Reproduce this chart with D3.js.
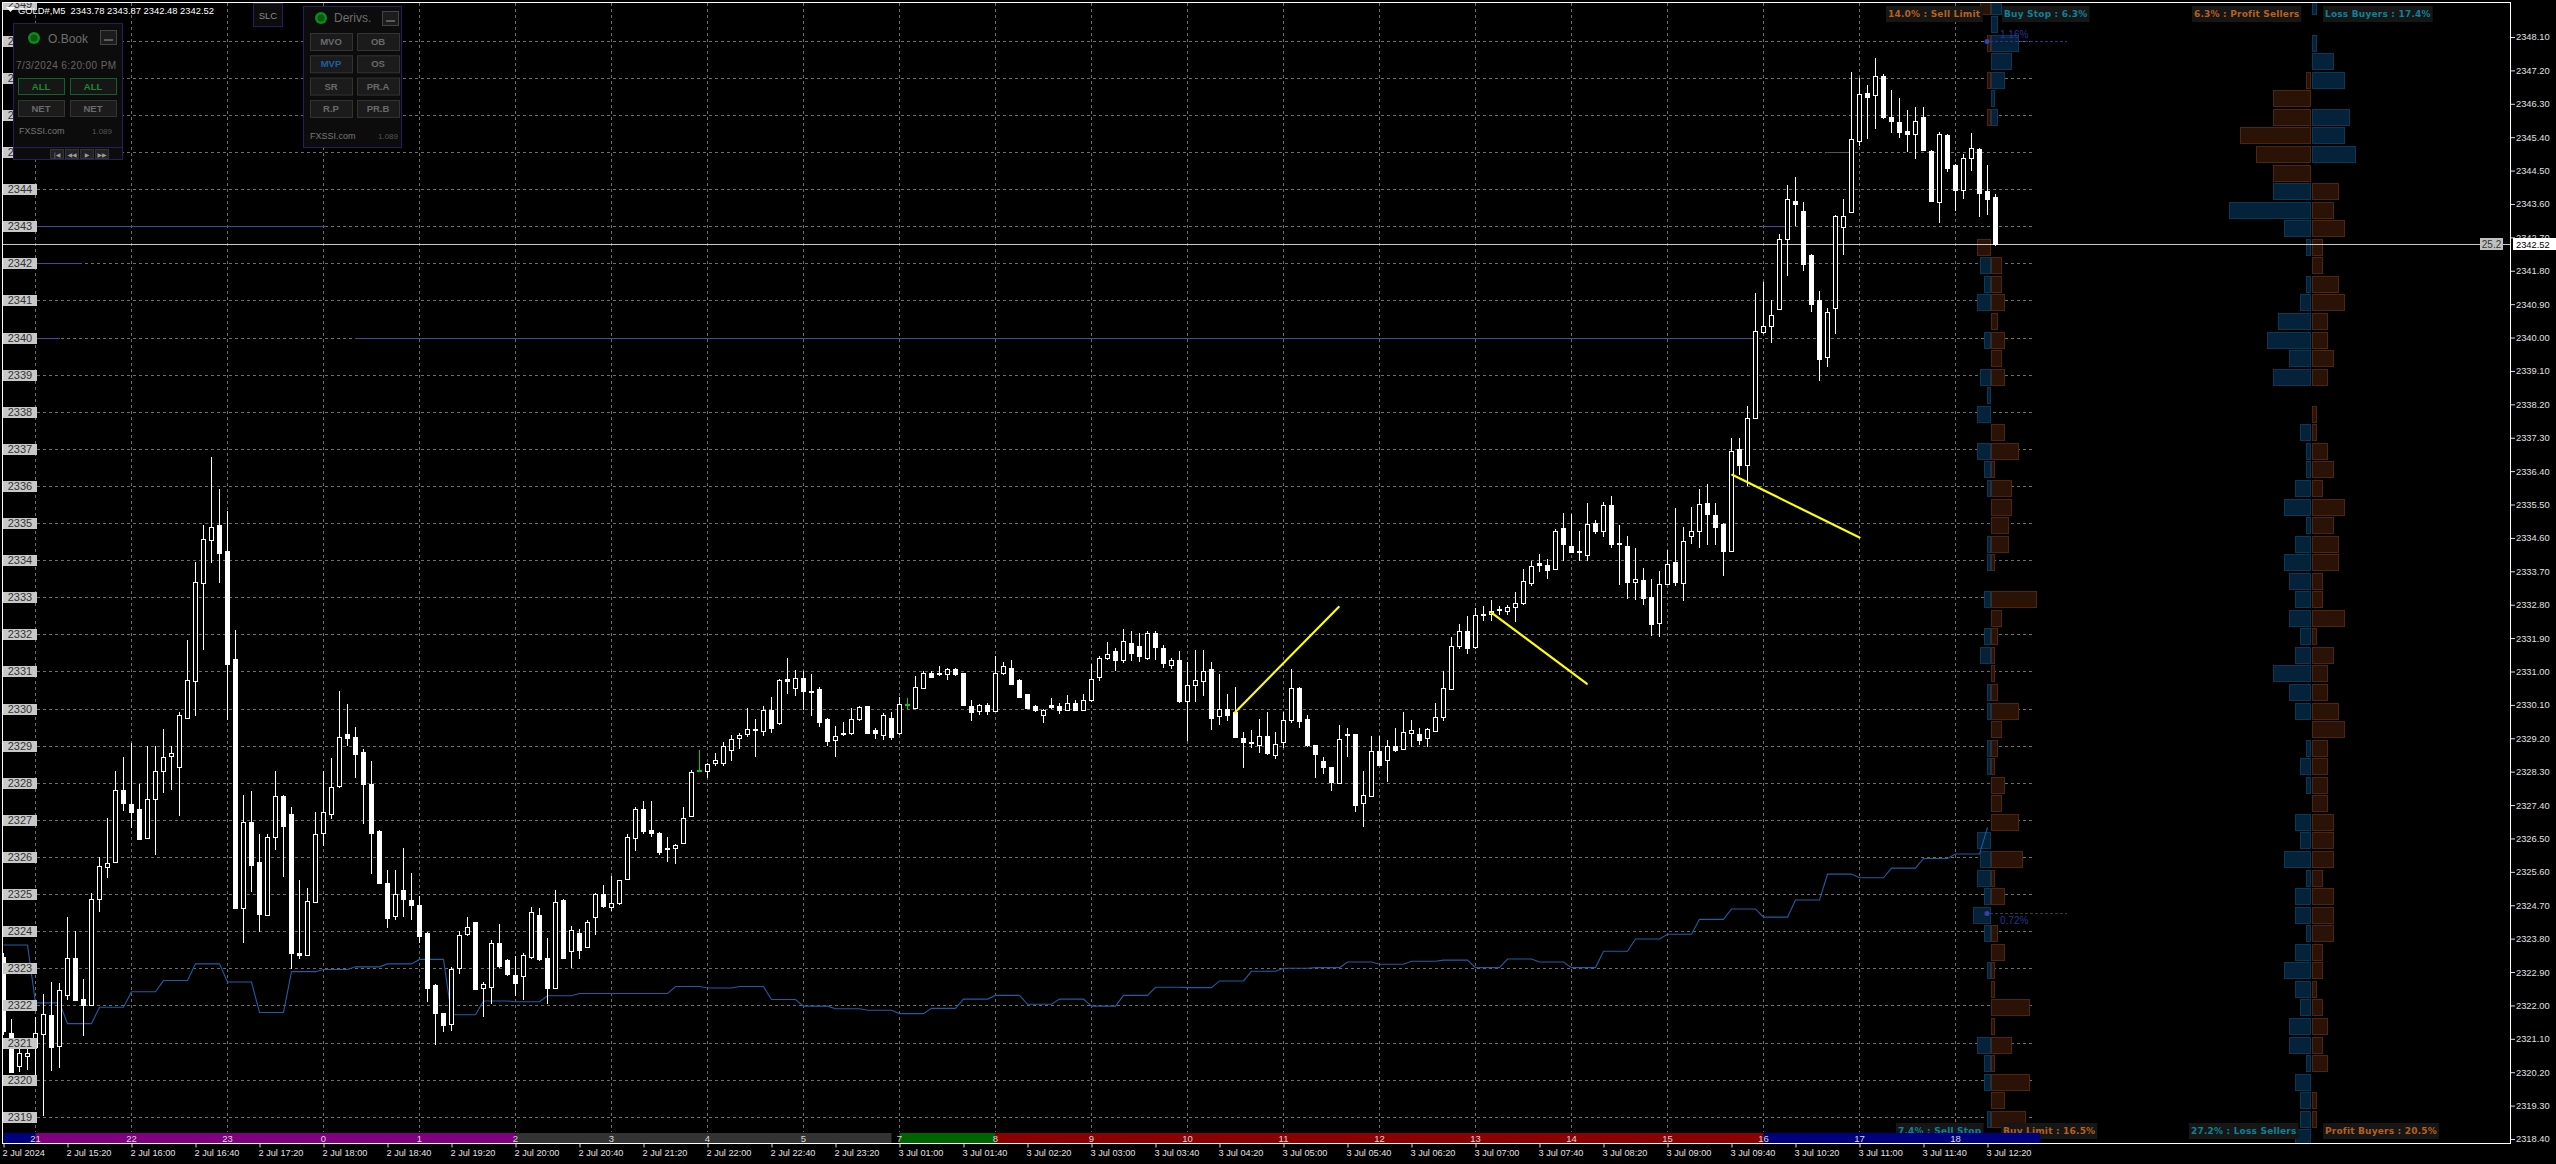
<!DOCTYPE html>
<html><head><meta charset="utf-8">
<style>html,body{margin:0;padding:0;background:#000;overflow:hidden}text{font-family:"Liberation Sans",Arial,sans-serif}</style>
<script src="https://d3js.org/d3.v7.min.js"></script></head><body>
<svg id="c" width="2556" height="1164" xmlns="http://www.w3.org/2000/svg"></svg>
<script>
const opens=[2323.3,2321.27,2320.36,2320.64,2320.89,2321.23,2321.73,2320.92,2322.29,2323.28,
2322.16,2322.01,2324.87,2325.74,2325.87,2327.8,2327.42,2327.29,2326.53,2327.57,
2328.33,2328.72,2328.41,2329.74,2330.74,2333.38,2334.54,2334.94,2334.26,2331.34,
2324.62,2326.93,2325.87,2324.44,2326.55,2327.65,2327.17,2323.42,2323.36,2324.79,
2326.65,2327.17,2327.91,2329.31,2329.24,2328.82,2327.96,2326.7,2325.31,2324.41,
2325.12,2324.85,2324.71,2323.96,2322.55,2321.79,2321.49,2323.01,2323.92,2324.24,
2322.45,2322.5,2323.69,2323.22,2322.82,2322.8,2323.32,2324.44,2323.29,2322.47,
2324.84,2323.47,2323.96,2323.57,2324.36,2325,2324.64,2324.74,2325.43,2326.53,
2327.3,2326.73,2326.65,2326.23,2326.24,2326.38,2327.1,2328.35,2328.34,2328.53,
2328.52,2328.88,2329.2,2329.31,2329.44,2329.4,2329.97,2329.59,2330.79,2330.56,
2330.83,2330.47,2330.52,2329.71,2329.15,2329.34,2329.34,2329.7,2330.06,2329.41,
2329.29,2329.75,2329.35,2330.08,2330.02,2330.56,2330.96,2330.95,2330.93,2331.06,
2330.95,2330.08,2329.94,2330.11,2329.95,2330.96,2331.1,2330.78,2330.39,2330.06,
2329.83,2330.11,2330.07,2329.96,2330.16,2329.96,2330.23,2330.85,2331.37,2331.54,
2331.29,2331.76,2331.69,2331.36,2332.05,2331.63,2331.18,2331.32,2330.21,2330.64,
2330.76,2331.07,2329.79,2330,2329.9,2329.21,2329.1,2329.02,2329.27,2328.75,
2329.1,2329.7,2330.55,2329.71,2329.02,2328.58,2328.42,2328,2329.31,2329.31,
2327.45,2327.67,2328.87,2328.62,2329,2328.91,2329.34,2329.31,2329.21,2329.39,
2329.79,2330.53,2331.7,2332.1,2331.64,2332.55,2332.54,2332.67,2332.63,2332.75,
2332.85,2333.39,2333.93,2333.88,2333.77,2334.87,2334.38,2334.25,2334.14,2335.01,
2334.79,2335.5,2334.47,2334.38,2333.4,2333.47,2333.01,2332.29,2333.36,2333.94,
2333.4,2334.64,2334.79,2335.55,2335.23,2334.98,2334.26,2337,2336.56,2337.84,
2340.14,2340.32,2340.78,2342.66,2343.68,2343.42,2342.22,2341,2339.48,2340.8,
2342.98,2343.4,2345.3,2346.6,2346.54,2347.04,2345.94,2345.8,2345.58,2345.5,
2345.94,2345.04,2343.66,2345.46,2344.66,2343.98,2344.86,2345.08,2343.96,2343.78];
const closes=[2321.3,2320.21,2320.71,2320.71,2321.27,2321.76,2320.86,2322.42,2323.28,2322.14,
2321.99,2324.87,2325.76,2325.84,2327.8,2327.45,2327.2,2326.48,2327.57,2328.32,
2328.7,2328.79,2329.82,2330.77,2333.41,2334.57,2334.9,2334.19,2331.22,2324.62,
2326.95,2325.76,2324.46,2326.55,2327.65,2326.83,2323.42,2323.36,2324.82,2326.63,
2327.21,2327.9,2329.24,2329.19,2328.79,2327.97,2326.65,2325.31,2324.36,2325,
2324.87,2324.71,2323.88,2322.47,2321.8,2321.48,2322.98,2323.9,2324.11,2322.44,
2322.57,2323.69,2323.07,2322.85,2322.6,2323.36,2324.52,2323.26,2322.48,2324.79,
2323.29,2324.04,2323.49,2324.25,2324.99,2324.69,2324.75,2325.37,2326.55,2327.3,
2326.71,2326.65,2326.15,2326.19,2326.33,2327.05,2328.29,2328.32,2328.52,2328.62,
2328.98,2329.18,2329.28,2329.44,2329.4,2329.96,2329.49,2330.76,2330.74,2330.83,
2330.47,2330.45,2329.64,2329.11,2329.26,2329.31,2329.72,2330.03,2329.34,2329.33,
2329.84,2329.25,2330.12,2330.12,2330.58,2330.97,2330.86,2330.91,2331.06,2330.93,
2330.08,2329.92,2330.11,2329.96,2330.97,2331.14,2330.68,2330.33,2330.02,2329.94,
2329.96,2330.05,2329.96,2330.16,2329.98,2330.24,2330.8,2331.36,2331.47,2331.31,
2331.81,2331.48,2331.43,2332.03,2331.66,2331.23,2331.32,2330.21,2330.63,2330.78,
2331.02,2329.75,2329.98,2329.83,2329.22,2329.1,2329.08,2329.27,2328.82,2329.04,
2329.7,2330.56,2329.67,2329.02,2328.77,2328.41,2328.01,2329.19,2329.28,2327.39,
2327.67,2328.87,2328.48,2328.99,2328.88,2329.37,2329.41,2329.15,2329.45,2329.77,
2330.56,2331.7,2332.1,2331.63,2332.51,2332.52,2332.62,2332.69,2332.75,2332.85,
2333.43,2333.84,2333.88,2333.75,2334.79,2334.43,2334.22,2334.22,2334.98,2334.79,
2335.5,2334.44,2334.43,2333.42,2333.48,2332.99,2332.28,2333.35,2333.91,2333.39,
2334.53,2334.78,2335.52,2335.25,2334.9,2334.26,2336.95,2336.56,2337.84,2340.18,
2340.3,2340.62,2342.66,2343.74,2343.6,2342,2340.9,2339.4,2340.7,2343.28,
2343.28,2345.36,2346.56,2346.48,2347.04,2345.94,2345.84,2345.54,2345.5,2345.84,
2345.06,2343.68,2345.48,2344.58,2343.98,2344.84,2345.12,2343.9,2343.74,2342.52];
const highs=[2323.4,2321.64,2320.89,2320.95,2321.7,2322.32,2322.63,2322.6,2324.38,2324,
2322.7,2325.03,2325.99,2327.05,2328.33,2328.69,2329.06,2327.98,2328.98,2328.98,
2329.45,2328.98,2329.91,2331.86,2333.95,2334.95,2336.79,2335.91,2335.32,2332.12,
2327.67,2327.77,2326.61,2326.61,2328.33,2327.67,2327.36,2325.37,2325.16,2327.2,
2328.33,2328.67,2330.47,2330.12,2329.51,2328.92,2328.6,2326.72,2325.66,2325.66,
2326.24,2325.58,2324.96,2323.98,2322.57,2321.8,2323.04,2324,2324.38,2324.26,
2322.63,2323.75,2324.19,2323.26,2323.34,2323.42,2324.66,2324.62,2323.82,2325.12,
2324.87,2324.13,2324.06,2324.31,2325.03,2325.25,2325.49,2325.38,2326.61,2327.36,
2327.52,2327.52,2326.68,2326.55,2326.35,2327.36,2328.34,2328.89,2328.54,2328.79,
2329.1,2329.29,2329.35,2330.01,2329.71,2330.06,2330.31,2330.81,2331.37,2331.05,
2331,2330.94,2330.57,2329.74,2329.54,2329.64,2330.01,2330.07,2330.06,2329.47,
2329.89,2329.91,2330.3,2330.28,2330.89,2331.01,2331.01,2331.15,2331.1,2331.09,
2330.95,2330.24,2330.13,2330.15,2331.41,2331.25,2331.31,2330.79,2330.4,2330.1,
2330,2330.28,2330.16,2330.36,2330.22,2330.4,2331.21,2331.43,2331.8,2331.64,
2332.14,2332.08,2332.04,2332.08,2332.1,2331.71,2331.37,2331.55,2331.25,2331.59,
2331.59,2331.25,2330.92,2330.4,2330.58,2329.37,2329.43,2329.73,2329.92,2329.37,
2329.92,2331.07,2330.58,2329.83,2329.03,2328.7,2328.43,2329.55,2329.49,2329.32,
2328.31,2329.25,2329.27,2329.15,2329.49,2329.92,2329.7,2329.47,2329.49,2330.16,
2331.01,2331.92,2332.28,2332.49,2332.71,2332.77,2332.92,2332.77,2332.8,2333.13,
2333.76,2333.98,2334.16,2334.04,2334.83,2335.28,2335.25,2334.79,2335.53,2335.07,
2335.56,2335.72,2334.95,2334.65,2334.34,2333.8,2333.5,2333.7,2334.28,2335.4,
2334.89,2335.44,2335.92,2336.04,2335.53,2335.01,2337.3,2337.3,2338.16,2341.2,
2341.5,2341,2342.8,2344.1,2344.34,2343.66,2342.26,2341.26,2340.8,2343.3,
2343.74,2347.16,2347,2346.8,2347.54,2347.1,2346.66,2346.46,2346.14,2346.2,
2346.2,2345.06,2345.54,2345.48,2344.68,2344.96,2345.5,2345.1,2344.66,2343.87];
const lows=[2321.2,2320.2,2320.2,2320.27,2320.02,2319.03,2320.23,2320.31,2322.14,2322.12,
2321.18,2321.98,2324.52,2325.43,2325.85,2327.24,2326.78,2326.45,2326.5,2326.05,
2327.73,2327.8,2327.11,2329.72,2329.79,2331.59,2333.92,2333.39,2329.69,2324.6,
2323.69,2325.06,2323.98,2324.4,2326.2,2325.46,2322.98,2323.26,2323.34,2324.77,
2326.3,2327.02,2327.86,2328.98,2328.14,2326.9,2325.53,2325.28,2324.1,2324.31,
2324.38,2324.29,2323.67,2322.1,2320.93,2321.29,2321.3,2322.85,2323.88,2322.42,
2321.68,2322.05,2323.01,2322.78,2322.26,2322.14,2323.26,2323.19,2322.05,2322.45,
2323.26,2323.01,2323.26,2323.54,2323.9,2324.62,2324.54,2324.71,2325.41,2326.15,
2326.61,2326.53,2326.05,2325.87,2325.81,2326.35,2327.07,2328.29,2328.14,2328.44,
2328.44,2328.6,2328.92,2329.23,2328.7,2329.25,2329.33,2329.56,2330.38,2330.33,
2329.97,2329.79,2329.51,2328.98,2328.7,2329.26,2329.29,2329.66,2329.33,2329.19,
2329.14,2329.16,2329.3,2329.95,2330,2330.52,2330.83,2330.89,2330.76,2330.89,
2330.07,2329.67,2329.83,2329.82,2329.92,2330.91,2330.67,2330.32,2330.01,2329.92,
2329.61,2329.98,2329.85,2329.94,2329.94,2329.94,2330.19,2330.74,2331.31,2331.01,
2331.23,2331.27,2331.25,2331.31,2331.31,2331.1,2331.07,2330.16,2329.13,2330.19,
2330.34,2329.43,2329.55,2329.67,2329.21,2328.4,2328.94,2328.8,2328.76,2328.64,
2328.94,2329.61,2329.47,2328.97,2328.13,2328.25,2327.79,2327.97,2328.7,2327.21,
2326.82,2327.63,2328.46,2328.01,2328.82,2328.88,2328.97,2329.03,2328.97,2329.37,
2329.67,2330.52,2331.61,2331.47,2331.61,2332.37,2332.37,2332.52,2332.52,2332.34,
2332.8,2333.31,2333.68,2333.5,2333.76,2333.98,2334.2,2333.98,2333.98,2334.71,
2334.62,2334.32,2333.34,2332.95,2332.92,2332.8,2331.95,2331.94,2333.34,2333.31,
2332.91,2334.44,2334.34,2334.41,2334.41,2333.58,2334.25,2336.3,2336,2337.8,
2340.1,2339.84,2340.74,2341.66,2343,2341.8,2340.7,2338.84,2339.2,2340.1,
2342.22,2343.38,2345.16,2345.34,2345.62,2345.9,2345.5,2345.38,2345,2344.8,
2345.02,2343.66,2343.1,2344.46,2343.42,2343.74,2344.5,2343.26,2343.3,2342.48];
const greenBars=[87,113];
// stepped average, one value per four bars
const stepAvg=[2323.63,2322.07,2321.51,2321.95,2322.37,2322.67,2323.12,2322.63,2321.81,2322.91,2322.97,2323.04,2323.12,2323.24,2321.75,2322.12,2322.1,2322.26,2322.32,2322.32,2322.32,2322.51,2322.47,2322.51,2322.16,2321.98,2321.91,2321.87,
2321.78,2321.92,2322.17,2322.27,2322.03,2322.17,2321.98,2322.27,2322.49,2322.48,2322.66,2322.92,2323,2323.02,2323.17,2323.11,2323.19,2323.22,2323.02,2323.25,2323.17,2323.02,2323.46,2323.79,2323.92,2324.32,2324.6,2324.38,2324.84,2325.54,2325.44,2325.7,2325.96,2326.08,2326.8];
// hand-drawn yellow trend lines [bar, price, bar, price]
const trendLines=[[153.9,2329.89,166.9,2332.74],[185.9,2332.6,197.9,2330.67],[216.1,2336.3,232,2334.61]];
const levelSegs=[[2340,37,60],[2340,355,1755],[2343,37,326],[2343,1762,1786],[2342,37,82]];
const xLabels=["2 Jul 2024","2 Jul 15:20","2 Jul 16:00","2 Jul 16:40","2 Jul 17:20","2 Jul 18:00","2 Jul 18:40","2 Jul 19:20","2 Jul 20:00","2 Jul 20:40","2 Jul 21:20","2 Jul 22:00","2 Jul 22:40","2 Jul 23:20","3 Jul 01:00","3 Jul 01:40","3 Jul 02:20","3 Jul 03:00","3 Jul 03:40","3 Jul 04:20","3 Jul 05:00","3 Jul 05:40","3 Jul 06:20","3 Jul 07:00","3 Jul 07:40","3 Jul 08:20","3 Jul 09:00","3 Jul 09:40","3 Jul 10:20","3 Jul 11:00","3 Jul 11:40","3 Jul 12:20"];
const hourLabels=["21","22","23","0","1","2","3","4","5","7","8","9","10","11","12","13","14","15","16","17","18"];
const sessions=[{from:-1,to:4,c:"#00007f"},{from:4,to:64,c:"#800080"},{from:64,to:111,c:"#333333"},{from:112,to:124,c:"#006400"},{from:124,to:220,c:"#8b0000"},{from:220,to:254.6,c:"#00007f"}];
const rightTicks=d3.range(0,34).map(k=>+(2348.1-0.9*k).toFixed(2));
const leftLabels=d3.range(2349,2318,-1);
// order book rows from 2349 down to 2318.5, step 0.5
const bookPrices=d3.range(0,62).map(k=>2349-0.5*k);
const obLeft=[3,0,1,0,1,0,1,0,0,0, 0,0,0,4,3,2,4,0,2,0, 3,1,4,0,4,2,1,0,0,1, 1,0,2,0,2,3,0,1,1,0, 1,1,0,0,0,4,3,4,2,5, 2,0,1,0,0,0,4,2,2,0, 1,0];
const obRight=[3,2,8,6,4,1,2,0,0,0, 0,0,0,0,3,3,4,2,4,3, 4,0,0,4,8,1,6,6,5,5, 1,0,13,3,2,1,1,2,8,3, 2,1,4,3,8,0,9,1,4,0, 2,4,1,1,11,1,6,1,11,4, 10,0];
const posLeft=[0,0,0,0,1,7,7,13,10,7, 7,15,5,1,0,1,2,6,8,4, 7,0,0,2,1,1,3,5,1,3, 5,4,3,4,2,3,7,4,3,0, 1,2,1,0,3,2,5,1,3,3, 1,3,5,3,2,4,4,1,3,2, 2,3];
const posRight=[1,0,1,4,6,0,7,6,8,0, 5,4,6,2,2,5,6,3,3,4, 3,0,1,1,3,4,2,6,4,5, 5,2,2,6,1,4,3,3,5,6, 3,3,3,3,4,4,4,2,4,4, 4,2,2,1,2,3,2,3,0,1, 1,0];
const topCaptions=[["14.0% : Sell Limit",1888,"#b8601c"],["Buy Stop : 6.3%",2004,"#0b8296"],["6.3% : Profit Sellers",2194,"#b8601c"],["Loss Buyers : 17.4%",2325,"#0b8296"]];
const bottomCaptions=[["7.4% : Sell Stop",1898,"#0b8296"],["Buy Limit : 16.5%",2003,"#b8601c"],["27.2% : Loss Sellers",2191,"#0b8296"],["Profit Buyers : 20.5%",2325,"#b8601c"]];
const lastPrice=2342.52, title="GOLD#,M5  2343.78 2343.87 2342.48 2342.52";

const svg=d3.select("#c");
const x=d3.scaleLinear().domain([0,249]).range([3.5,1995.5]);
const y=d3.scaleLinear().domain([2348.1,2318.4]).range([37,1139]);
const px=v=>Math.round(v)+0.5;
svg.append("rect").attr("width",2556).attr("height",1164).attr("fill","#000");
svg.append("defs").append("clipPath").attr("id","plot").append("rect").attr("x",3).attr("y",3).attr("width",2508).attr("height",1140);
const plot=svg.append("g").attr("clip-path","url(#plot)");

// grid
const gridG=plot.append("g").attr("stroke","#6e6e6e").attr("stroke-dasharray","3 3").attr("shape-rendering","crispEdges");
gridG.selectAll("line.h").data(d3.range(2348,2318,-1)).join("line").attr("class","h").attr("x1",37).attr("x2",2034).attr("y1",d=>px(y(d))).attr("y2",d=>px(y(d)));
gridG.selectAll("line.v").data(hourLabels).join("line").attr("class","v").attr("x1",(d,i)=>x(4+12*i)).attr("x2",(d,i)=>x(4+12*i)).attr("y1",3).attr("y2",1132);

// order book histograms
const brown=["#2a1206","#4f2410"], blue=["#04233a","#0a3957"];
const obScale=d3.scaleLinear().domain([0,13]).range([0,46]);
const posScale=d3.scaleLinear().domain([0,15]).range([0,82]);
function bars(vals,scale,edge,dir,above,threshold){
  const rows=vals.map((v,i)=>({v,p:bookPrices[i]})).filter(d=>d.v>0);
  plot.append("g").attr("shape-rendering","crispEdges").selectAll("rect").data(rows).join("rect")
   .attr("x",d=>(dir<0?edge-scale(d.v)+1:edge)+0.5)
   .attr("y",d=>Math.round(y(d.p)-6)+0.5)
   .attr("width",d=>scale(d.v)-1).attr("height",16)
   .attr("fill",d=>(d.p>threshold?above:(above===brown?blue:brown))[0])
   .attr("stroke",d=>(d.p>threshold?above:(above===brown?blue:brown))[1]);
}
bars(obLeft,obScale,1990,-1,brown,2342.25);
bars(obRight,obScale,1991,1,blue,2342.25);
bars(posLeft,posScale,2310,-1,brown,2344.25);
bars(posRight,posScale,2312,1,blue,2344.25);

// horizontal levels
plot.append("g").attr("stroke","#47479b").attr("shape-rendering","crispEdges").selectAll("line").data(levelSegs).join("line")
 .attr("x1",d=>d[1]).attr("x2",d=>d[2]).attr("y1",d=>px(y(d[0]))).attr("y2",d=>px(y(d[0])));
plot.append("line").attr("x1",1826).attr("x2",1850).attr("y1",152.5).attr("y2",152.5).attr("stroke","#555").attr("shape-rendering","crispEdges");
// last price line
plot.append("line").attr("x1",3).attr("x2",2511).attr("y1",px(y(lastPrice))).attr("y2",px(y(lastPrice))).attr("stroke","#c8c8c8").attr("shape-rendering","crispEdges");

// book level markers
[[2348,"1.16%","#2d3192","#2d3192",-7],[2324.5,"0.72%","#2d3192","#3a3a3a",7]].forEach(m=>{
  const yy=px(y(m[0]));
  plot.append("line").attr("x1",1985).attr("x2",2067).attr("y1",yy).attr("y2",yy).attr("stroke",m[3]).attr("stroke-dasharray","3 2").attr("shape-rendering","crispEdges");
  plot.append("circle").attr("cx",1987).attr("cy",yy).attr("r",2.5).attr("fill","#3b3fb0");
  plot.append("text").attr("x",2000).attr("y",yy+m[4]+3).attr("font-size",10).attr("fill",m[2]).text(m[1]);
});

// stepped average line
const stepPts=[];
stepAvg.forEach((v,k)=>{stepPts.push([4*k,v]); if(k<stepAvg.length-1) stepPts.push([4*k+3,v]);});
plot.append("path").attr("d",d3.line().x(d=>x(d[0])).y(d=>y(d[1]))(stepPts)).attr("fill","none").attr("stroke","#1c5ea6").attr("stroke-width",1.1);

// candles
const bars5=d3.range(opens.length).map(i=>({i,o:opens[i],h:highs[i],l:lows[i],c:closes[i]}));
const cg=plot.append("g").attr("shape-rendering","crispEdges");
const col=d=>greenBars.includes(d.i)?"#00d000":"#fff";
cg.selectAll("line").data(bars5).join("line").attr("x1",d=>x(d.i)).attr("x2",d=>x(d.i)).attr("y1",d=>Math.round(y(d.h))).attr("y2",d=>Math.round(y(d.l))).attr("stroke",col);
cg.selectAll("rect").data(bars5).join("rect")
 .attr("x",d=>x(d.i)-2).attr("width",4)
 .attr("y",d=>px(y(Math.max(d.o,d.c))))
 .attr("height",d=>Math.max(1,Math.round(Math.abs(y(d.o)-y(d.c)))))
 .attr("fill",d=>d.c>=d.o?"#000":col(d)).attr("stroke",col);

// yellow lines
plot.append("g").attr("stroke","#ffff00").attr("stroke-width",2.2).attr("stroke-linecap","round").selectAll("line").data(trendLines).join("line")
 .attr("x1",d=>x(d[0])).attr("y1",d=>y(d[1])).attr("x2",d=>x(d[2])).attr("y2",d=>y(d[3]));

// captions
function captions(list,yy){
  list.forEach(c=>{
    const t=plot.append("text").attr("x",c[1]).attr("y",yy+3).attr("font-size",9).attr("font-weight","bold").attr("letter-spacing",0.2).attr("fill",c[2]).attr("style","font-family:'DejaVu Sans'").text(c[0]);
    const b=t.node().getBBox();
    plot.insert("rect",()=>t.node()).attr("x",b.x-2).attr("y",yy-8).attr("width",b.width+4).attr("height",16).attr("fill","#161616");
  });
}
captions(topCaptions,14); captions(bottomCaptions,1131);

// left overlay price labels
const lg=plot.append("g");
lg.selectAll("rect").data(leftLabels).join("rect").attr("x",3).attr("width",34).attr("y",d=>Math.round(y(d))-5).attr("height",11).attr("fill","#c8c8c8");
lg.selectAll("text").data(leftLabels).join("text").attr("x",20).attr("y",d=>Math.round(y(d))+4).attr("text-anchor","middle").attr("font-size",11).attr("fill","#333").text(d=>d);

// hour/session strip
const strip=svg.append("g");
strip.selectAll("rect").data(sessions).join("rect").attr("x",d=>Math.max(3,x(d.from))).attr("width",d=>x(d.to)-Math.max(3,x(d.from))).attr("y",1133).attr("height",10).attr("fill",d=>d.c);
strip.selectAll("text").data(hourLabels).join("text").attr("x",(d,i)=>x(4+12*i)).attr("y",1141.5).attr("text-anchor","middle").attr("font-size",9.5).attr("fill","#d8d8d8").text(d=>d);

// frame
svg.append("rect").attr("x",2.5).attr("y",2.5).attr("width",2508).attr("height",1141).attr("fill","none").attr("stroke","#fff").attr("shape-rendering","crispEdges");

// axes
const yAxis=d3.axisRight(y).tickValues(rightTicks).tickFormat(d3.format(".2f")).tickSize(4);
const ya=svg.append("g").attr("transform","translate(2511,0)").call(yAxis);
ya.select(".domain").remove();
ya.selectAll("line").attr("stroke","#ddd");
ya.selectAll("text").attr("x",5).attr("font-size",9.3).attr("font-family","Liberation Sans").attr("fill","#e0e0e0");
const tickIdx=d3.range(0,xLabels.length).map(k=>8*k);
const xAxis=d3.axisBottom(x).tickValues(tickIdx).tickFormat((d,i)=>xLabels[i]).tickSize(4);
const xa=svg.append("g").attr("transform","translate(0,1143.5)").call(xAxis);
xa.select(".domain").remove();
xa.selectAll("line").attr("stroke","#ddd");
xa.selectAll("text").attr("text-anchor","start").attr("x",-1.5).attr("y",6).attr("font-size",9.2).attr("font-family","Liberation Sans").attr("fill","#e0e0e0");

// last price tags
const ly=Math.round(y(lastPrice));
svg.append("rect").attr("x",2513).attr("y",ly-6).attr("width",43).attr("height",12).attr("fill","#fff");
svg.append("text").attr("x",2516).attr("y",ly+3.5).attr("font-size",9.3).attr("fill","#000").text(lastPrice.toFixed(2));
svg.append("rect").attr("x",2480).attr("y",ly-6).attr("width",23).attr("height",12).attr("fill","#c0c0c0");
svg.append("text").attr("x",2491.5).attr("y",ly+3.5).attr("text-anchor","middle").attr("font-size",10).attr("fill","#333").text("25.2");

// title
svg.append("path").attr("d","M6 7h9l-4.5 5z").attr("fill","#fff");
svg.append("text").attr("x",18).attr("y",14).attr("font-size",9.4).attr("fill","#fff").attr("xml:space","preserve").style("white-space","pre").text(title);

// FXSSI panels
const panelBorder="#2a1a62";
function panel(px0,py0,w,h){svg.append("rect").attr("x",px0+.5).attr("y",py0+.5).attr("width",w).attr("height",h).attr("fill","#0c0c0c").attr("stroke",panelBorder);}
function btn(bx,by,w,h,label,stroke,fillTxt,fill){
  svg.append("rect").attr("x",bx+.5).attr("y",by+.5).attr("width",w).attr("height",h).attr("fill",fill||"#1b1b1b").attr("stroke",stroke);
  svg.append("text").attr("x",bx+w/2).attr("y",by+h/2+3.5).attr("text-anchor","middle").attr("font-size",9.5).attr("font-weight","bold").attr("fill",fillTxt).text(label);
}
function dot(cx,cy){svg.append("circle").attr("cx",cx).attr("cy",cy).attr("r",6).attr("fill","#0f8a1e");svg.append("circle").attr("cx",cx).attr("cy",cy).attr("r",3.5).attr("fill","#0a5a12");}
function minus(bx,by){svg.append("rect").attr("x",bx+.5).attr("y",by+.5).attr("width",16).attr("height",14).attr("fill","#1c1c1c").attr("stroke","#444");svg.append("line").attr("x1",bx+4).attr("x2",bx+13).attr("y1",by+10).attr("y2",by+10).attr("stroke","#999");}
// SLC
svg.append("rect").attr("x",253.5).attr("y",3.5).attr("width",29).attr("height",23).attr("fill","#0c0c0c").attr("stroke",panelBorder);
svg.append("text").attr("x",268).attr("y",19).attr("text-anchor","middle").attr("font-size",9.5).attr("fill","#8a8a8a").text("SLC");
// O.Book
panel(13,23,109,124);
dot(34,38);
svg.append("text").attr("x",48).attr("y",43).attr("font-size",12).attr("fill","#6e6e6e").text("O.Book");
minus(100,30);
svg.append("text").attr("x",16).attr("y",69).attr("font-size",10).attr("letter-spacing",0.4).attr("fill","#666").text("7/3/2024 6:20:00 PM");
btn(18,78,46,16,"ALL","#14602a","#1c8a2e","#161616");btn(70,78,46,16,"ALL","#14602a","#1c8a2e","#161616");
btn(18,100,46,16,"NET","#333","#6a6a6a");btn(70,100,46,16,"NET","#333","#6a6a6a");
svg.append("text").attr("x",19).attr("y",134).attr("font-size",9).attr("fill","#777").text("FXSSI.com");
svg.append("text").attr("x",92).attr("y",134).attr("font-size",8).attr("fill","#555").text("1.089");
// nav strip
svg.append("rect").attr("x",13.5).attr("y",147.5).attr("width",109).attr("height",12).attr("fill","#0c0c0c").attr("stroke",panelBorder);
["|◀","◀◀","▶","▶▶"].forEach((t,i)=>{svg.append("rect").attr("x",50.5+i*15).attr("y",149.5).attr("width",13).attr("height",9).attr("fill","#222").attr("stroke","#333");
 svg.append("text").attr("x",57+i*15).attr("y",157).attr("text-anchor","middle").attr("font-size",6).attr("fill","#999").style("font-family","DejaVu Sans").text(t);});
// Derivs
panel(303,6,98,141);
dot(321,18);
svg.append("text").attr("x",334).attr("y",22).attr("font-size",12).attr("fill","#6e6e6e").text("Derivs.");
minus(382,11);
const drvRows=[["MVO","OB"],["MVP","OS"],["SR","PR.A"],["R.P","PR.B"]];
drvRows.forEach((r,k)=>{const by=33+k*22.3;
 btn(310,by,42,17,r[0],"#333",r[0]==="MVP"?"#1c5ea6":"#6a6a6a");
 btn(357,by,42,17,r[1],"#333","#6a6a6a");});
svg.append("text").attr("x",310).attr("y",139).attr("font-size",9).attr("fill","#777").text("FXSSI.com");
svg.append("text").attr("x",378).attr("y",139).attr("font-size",8).attr("fill","#555").text("1.089");
</script></body></html>
